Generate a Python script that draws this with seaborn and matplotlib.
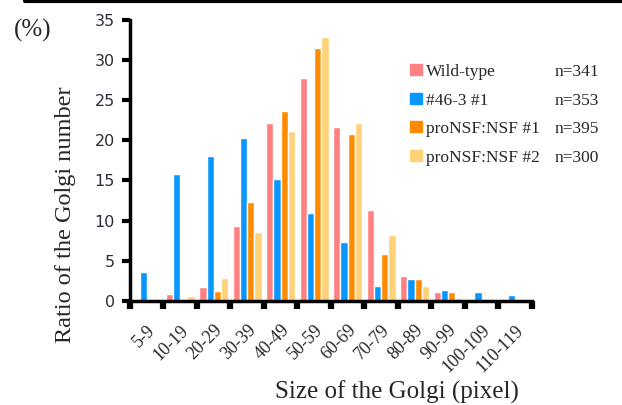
import matplotlib
matplotlib.use("Agg")
import matplotlib.pyplot as plt
import matplotlib.patches as mpatches
from matplotlib.lines import Line2D
import numpy as np
import pandas as pd
import seaborn as sns

# data
size_bins = ["5-9", "10-19", "20-29", "30-39", "40-49", "50-59",
             "60-69", "70-79", "80-89", "90-99", "100-109", "110-119"]
wild_type = [0.0, 0.9, 1.7, 9.3, 22.2, 27.8, 21.6, 11.3, 3.1, 1.1, 0.1, 0.0]
mut_46_3 = [3.6, 15.8, 18.0, 20.3, 15.2, 10.9, 7.3, 1.8, 2.7, 1.3, 1.1, 0.7]
pro_nsf_1 = [0.0, 0.0, 1.2, 12.3, 23.7, 31.5, 20.8, 5.8, 2.7, 1.1, 0.0, 0.0]
pro_nsf_2 = [0.0, 0.6, 2.9, 8.6, 21.2, 32.9, 22.2, 8.2, 1.8, 0.4, 0.0, 0.0]
series_names = ["Wild-type", "#46-3 #1", "proNSF:NSF #1", "proNSF:NSF #2"]
series_n = ["n=341", "n=353", "n=395", "n=300"]
colors = ["#FF8080", "#0A96FF", "#FF8C00", "#FFD27A"]

df = pd.DataFrame({
    "size": size_bins * 4,
    "ratio": wild_type + mut_46_3 + pro_nsf_1 + pro_nsf_2,
    "line": np.repeat(series_names, len(size_bins)),
})

sns.set_style("white")
plt.rcParams["font.family"] = ["DejaVu Sans"]
serif = ["Liberation Serif", "DejaVu Serif"]

fig = plt.figure(figsize=(6.22, 4.05), dpi=100)
ax = fig.add_axes([0.209, 0.257, 0.646, 0.694])

sns.barplot(data=df, x="size", y="ratio", hue="line", order=size_bins,
            hue_order=series_names, palette=colors, width=0.86, gap=0.0,
            saturation=1, legend=False, ax=ax)

ax.set_xlim(-0.5, len(size_bins) - 0.5)
ax.set_ylim(0, 35)
ax.set_yticks(range(0, 36, 5))
ax.set_xticks(range(len(size_bins)))
ax.set_xticks(np.arange(-0.5, len(size_bins)), minor=True)
ax.set_xticklabels(size_bins, rotation=45, ha="right", rotation_mode="anchor",
                   family=serif, fontsize=13)
for lab in ax.get_yticklabels():
    lab.set_fontsize(11.5)
    lab.set_color("#2e2a3a")
ax.tick_params(axis="x", which="major", bottom=True, length=0, pad=15)
ax.tick_params(axis="x", which="minor", bottom=True, length=6, width=4.5,
               direction="out", color="black")
ax.tick_params(axis="y", left=True, length=6, width=3, direction="out",
               color="black", pad=5)
ax.set_xlabel("")
ax.set_ylabel("")
for side in ["top", "right"]:
    ax.spines[side].set_visible(False)
for side in ["left", "bottom"]:
    ax.spines[side].set_linewidth(2.5)
    ax.spines[side].set_color("black")

fig.text(0.106, 0.469, "Ratio of the Golgi number", rotation=90, ha="center",
         va="center", family=serif, fontsize=17.5)
fig.text(0.022, 0.926, "(%)", ha="left", va="center", family=serif, fontsize=18)
fig.text(0.638, 0.017, "Size of the Golgi (pixel)", ha="center", va="baseline",
         family=serif, fontsize=18)

# custom legend: swatch, label, sample size
row_y = [0.822, 0.751, 0.681, 0.610]
for name, n, col, y in zip(series_names, series_n, colors, row_y):
    fig.patches.append(mpatches.Rectangle((0.659, y - 0.008), 0.019, 0.028,
                                          transform=fig.transFigure, color=col))
    fig.text(0.685, y, name, ha="left", va="center", family=serif, fontsize=12.5)
    fig.text(0.891, y, n, ha="left", va="center", family=serif, fontsize=12.5)

fig.add_artist(Line2D([0.04, 1.0], [0.997, 0.997], color="black", linewidth=3,
                      transform=fig.transFigure))

fig.savefig("out.png", dpi=100)
